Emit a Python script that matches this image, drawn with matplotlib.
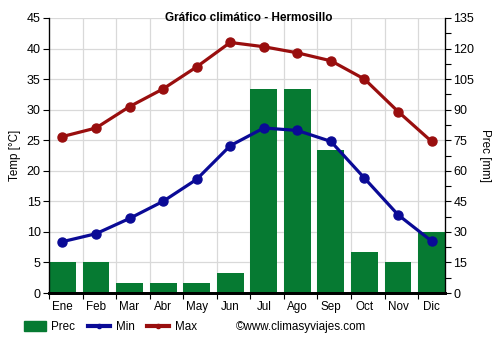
import matplotlib
matplotlib.use("Agg")
import matplotlib.pyplot as plt
import numpy as np
from matplotlib.lines import Line2D
from matplotlib.patches import Patch

months = ["Ene", "Feb", "Mar", "Abr", "May", "Jun", "Jul", "Ago", "Sep", "Oct", "Nov", "Dic"]
tmax = [25.6, 27.0, 30.5, 33.4, 37.0, 41.0, 40.3, 39.3, 38.0, 35.0, 29.7, 24.8]
tmin = [8.4, 9.7, 12.2, 15.0, 18.6, 24.1, 27.0, 26.6, 24.8, 18.8, 12.8, 8.5]
prec = [15, 15, 5, 5, 5, 10, 100, 100, 70, 20, 15, 30]

plt.rcParams['font.family'] = ['Liberation Sans', 'DejaVu Sans']
plt.rcParams['font.size'] = 8.4

GREEN = '#067a32'
BLUE = '#0a0a96'
RED = '#990e0e'

fig = plt.figure(figsize=(5, 3.5), dpi=100)
ax = fig.add_axes([49/500, 57/350, 396/500, 275/350])
ax2 = ax.twinx()

x = np.arange(len(months))
ax2.bar(x, prec, width=0.8, align='edge', color=GREEN, zorder=1)
ax2.set_ylim(0, 135)
ax2.set_yticks(np.arange(0, 136, 15))
ax2.set_yticks(np.arange(7.5, 135, 15), minor=True)
ax2.tick_params(axis='y', which='major', length=4, width=0.8, colors='black', pad=2, labelsize=9)
ax2.tick_params(axis='y', which='minor', length=4, width=0.8)

ax.set_zorder(ax2.get_zorder() + 1)
ax.patch.set_visible(False)
ax2.patch.set_visible(True)
ax2.patch.set_facecolor('white')

ax.plot(x + 0.4, tmin, color=BLUE, lw=2.3, marker='o', ms=6.5, zorder=5)
ax.plot(x + 0.4, tmax, color=RED, lw=2.3, marker='o', ms=6.5, zorder=5)
ax.set_ylim(0, 45)
ax.set_xlim(0, 11.8)
ax.set_yticks(np.arange(0, 46, 5))
ax.set_xticks(np.arange(0, 12))
ax.set_xticklabels([])
ax.set_xticks(x + 0.4, minor=True)
ax.set_xticklabels(months, minor=True)
ax.tick_params(axis='x', which='major', length=4, width=0.8)
ax.tick_params(axis='x', which='minor', length=0, pad=6)
ax.tick_params(axis='y', length=4, width=0.8, pad=2, labelsize=9)

ax2.set_axisbelow(True)
for v in np.arange(15, 136, 15):
    ax2.axhline(v, color='#d9d9d9', lw=0.9, zorder=0)
for v in np.arange(1, 12):
    ax2.axvline(v, color='#d9d9d9', lw=0.9, zorder=0)

for a in (ax, ax2):
    a.spines['top'].set_visible(False)
ax.spines['bottom'].set_linewidth(2)
ax2.spines['bottom'].set_linewidth(2)
ax.spines['left'].set_linewidth(0.9)
ax2.spines['right'].set_linewidth(0.9)

ax.set_ylabel('Temp [°C]', labelpad=4)
ax2.set_ylabel('Prec [mm]', rotation=-90, labelpad=12)

fig.text(249/500, 1 - 18/350, 'Gráfico climático - Hermosillo', ha='center', va='center',
         fontweight='bold', fontsize=8.5)

handles = [Patch(color=GREEN), Line2D([], [], color=BLUE, lw=3, marker='o', ms=3),
           Line2D([], [], color=RED, lw=3, marker='o', ms=3)]
fig.legend(handles, ['Prec', 'Min', 'Max'], loc='center left', bbox_to_anchor=(24/500, 1 - 327/350),
           ncol=3, frameon=False, handlelength=1.85, handleheight=0.9, columnspacing=1.1,
           handletextpad=0.5, borderpad=0, borderaxespad=0, fontsize=8.4)
fig.text(236/500, 1 - 327/350, '©www.climasyviajes.com', ha='left', va='center', fontsize=8.4)

fig.savefig('out.png', dpi=100)
